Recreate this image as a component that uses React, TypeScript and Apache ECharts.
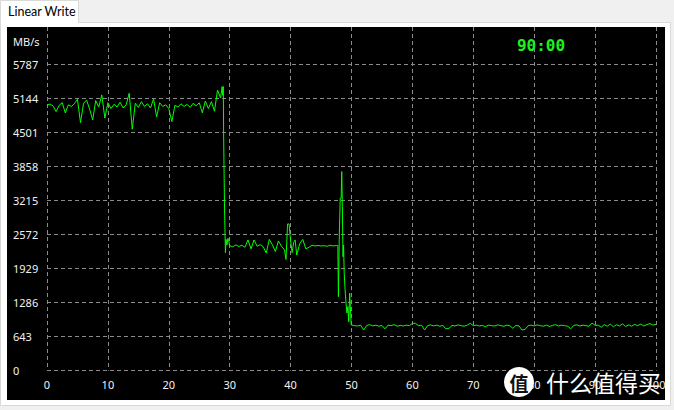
import React, { useEffect, useRef } from "react";
import * as echarts from "echarts";

// ---- data ----
const yTickLabels = [0, 643, 1286, 1929, 2572, 3215, 3858, 4501, 5144, 5787];
const xTickLabels = [0, 10, 20, 30, 40, 50, 60, 70, 80, 90, 100];
const yStep = 643;
const yMax = 6490;
const timerText = "90:00";
const unitText = "MB/s";
const tabTitle = "Linear Write";

// phase 1: sustained SLC-cache write, samples every 0.5 from 0
const sampleStep = 0.5;
const phase1Start = 0;
const phase1Speeds = [
  5020, 5035, 5000, 4893, 5010, 5063, 4868, 5020, 4990, 5040,
  5127, 4685, 5050, 5110, 4940, 4735, 5100, 4980, 5208, 4770,
  5060, 4950, 5030, 4980, 5070, 4960, 5020, 5240, 4560, 5050,
  4970, 5080, 4990, 5040, 4960, 5135, 4790, 5060, 4990, 5020,
  4950, 4703, 5010, 4980, 5040, 4990, 5030, 4970, 5050, 5000,
  5060, 4870, 5090, 4950, 5080, 4900, 5300, 5150,
];

// first drop
const drop1Times = [28.75, 28.85, 28.95, 29.0, 29.1, 29.15, 29.25, 29.3, 29.4, 29.55, 29.7, 29.85, 30.0];
const drop1Speeds = [5365, 5200, 5365, 4485, 4485, 3073, 3073, 2229, 2480, 2374, 2500, 2450, 2360];

// phase 2
const phase2Times = [
  30.5, 31.0, 31.5, 32.0, 32.5, 33.0, 33.5, 34.0, 34.5, 35.0,
  35.5, 36.0, 36.5, 37.0, 37.5, 38.0, 38.5, 39.0, 39.25, 39.5,
  39.75, 40.0, 40.25, 40.5, 40.75, 41.0, 41.5, 42.0, 42.5, 43.0,
  43.5, 44.0, 44.5, 45.0, 45.5, 46.0, 46.5, 47.0, 47.5,
];
const phase2Speeds = [
  2340, 2375, 2345, 2370, 2330, 2469, 2300, 2469, 2350, 2380,
  2340, 2223, 2480, 2380, 2250, 2450, 2350, 2280, 2100, 2771,
  2771, 2450, 2230, 2420, 2469, 2185, 2400, 2480, 2300, 2330,
  2370, 2355, 2365, 2355, 2360, 2350, 2370, 2355, 2365,
];

// second drop
const drop2Times = [47.76, 47.8, 47.85, 48.0, 48.15, 48.3, 48.4, 48.5, 48.6, 48.7, 48.8, 48.95, 49.1, 49.25, 49.4, 49.55, 49.7, 49.95];
const drop2Speeds = [2365, 1902, 1398, 2563, 3257, 3257, 3760, 3098, 2153, 2374, 1845, 1524, 1278, 1090, 1209, 925, 1467, 863];

// phase 3: steady state, samples every 0.5 from 50.5
const phase3Start = 50.5;
const phase3Speeds = [
  850, 845, 860, 769, 855, 870, 845, 860, 840, 855,
  790, 860, 850, 870, 840, 855, 845, 860, 850, 895,
  895, 850, 860, 769, 850, 865, 845, 860, 840, 855,
  790, 800, 855, 845, 865, 850, 840, 860, 895, 850,
  860, 845, 855, 830, 860, 850, 845, 865, 850, 840,
  860, 850, 800, 855, 845, 769, 780, 850, 860, 845,
  865, 850, 840, 860, 835, 855, 870, 845, 860, 850,
  840, 790, 855, 865, 845, 860, 850, 840, 900, 855,
  860, 820, 870, 840, 880, 830, 870, 845, 885, 835,
  865, 840, 875, 850, 880, 845, 870, 890, 860, 875,
];

function buildSeries(): [number, number][] {
  const pts: [number, number][] = [];
  phase1Speeds.forEach((v, i) => pts.push([phase1Start + i * sampleStep, v]));
  drop1Times.forEach((t, i) => pts.push([t, drop1Speeds[i]]));
  phase2Times.forEach((t, i) => pts.push([t, phase2Speeds[i]]));
  drop2Times.forEach((t, i) => pts.push([t, drop2Speeds[i]]));
  phase3Speeds.forEach((v, i) => pts.push([phase3Start + i * sampleStep, v]));
  return pts;
}

const labelFont = '"Noto Sans", "Open Sans", sans-serif';
const gridGray = "#8a8a8a";

export default function App() {
  const ref = useRef<HTMLDivElement>(null);
  useEffect(() => {
    if (!ref.current) return;
    const chart = echarts.init(ref.current, undefined, { renderer: "svg" });
    const shown = new Set(yTickLabels);
    const splitColors = yTickLabels.map(() => gridGray).concat(["rgba(0,0,0,0)", "rgba(0,0,0,0)"]);
    chart.setOption({
      animation: false,
      backgroundColor: "#f0f0f0",
      grid: { left: 47, right: 18, top: 27, bottom: 39.3 },
      xAxis: {
        type: "value",
        min: xTickLabels[0],
        max: xTickLabels[xTickLabels.length - 1],
        interval: 10,
        axisLine: { show: false },
        axisTick: { show: false },
        axisLabel: { color: "#f2f2f2", fontSize: 11, fontFamily: labelFont, margin: 8 },
        splitLine: { show: true, lineStyle: { color: gridGray, type: [4, 3], width: 1 } },
      },
      yAxis: {
        type: "value",
        min: 0,
        max: yMax,
        interval: yStep,
        axisLine: { show: false },
        axisTick: { show: false },
        axisLabel: {
          color: "#f2f2f2",
          fontSize: 11,
          fontFamily: labelFont,
          align: "left",
          margin: 34,
          formatter: (v: number) => (shown.has(v) ? String(v) : ""),
        },
        splitLine: { show: true, showMaxLine: false, lineStyle: { color: splitColors, type: [4, 3], width: 1 } },
      },
      series: [
        {
          type: "line",
          data: buildSeries(),
          symbol: "none",
          silent: true,
          lineStyle: { color: "#00ff00", width: 1 },
          z: 5,
        },
      ],
      graphic: [
        { type: "rect", z: -10, shape: { x: 0.5, y: 22.5, width: 670, height: 383 }, style: { fill: "#ffffff", stroke: "#d9d9d9", lineWidth: 1 } },
        { type: "rect", z: -9, shape: { x: 0.5, y: 0.5, width: 78, height: 23 }, style: { fill: "#ffffff" } },
        { type: "polyline", z: -9, shape: { points: [[0.5, 23], [0.5, 0.5], [78.5, 0.5], [78.5, 22.5]] }, style: { stroke: "#d9d9d9", fill: null, lineWidth: 1 } },
        { type: "text", z: -8, x: 8, y: 11.5, style: { text: tabTitle, fill: "#000000", fontSize: 12.5, fontFamily: 'Lato, "Liberation Sans", sans-serif', verticalAlign: "middle", align: "left" } },
        { type: "rect", z: -7, shape: { x: 7, y: 27, width: 658, height: 373 }, style: { fill: "#000000" } },
        { type: "text", z: 50, x: 13, y: 41, style: { text: unitText, fill: "#f2f2f2", fontSize: 11, fontFamily: labelFont, verticalAlign: "middle", align: "left" } },
        { type: "text", z: 50, x: 541, y: 45, style: { text: timerText, fill: "#1ef01e", fontSize: 16, fontWeight: "bold", fontFamily: '"DejaVu Sans Mono", "Liberation Mono", monospace', verticalAlign: "middle", align: "center" } },
        { type: "circle", z: 60, shape: { cx: 519, cy: 382, r: 15 }, style: { fill: "#ffffff" } },
        { type: "text", z: 61, x: 519, y: 382, style: { text: "值", fill: "#111111", fontSize: 19, fontWeight: "bold", fontFamily: '"Noto Sans CJK SC", sans-serif', verticalAlign: "middle", align: "center" } },
        { type: "text", z: 61, x: 546, y: 382, style: { text: "什么值得买", fill: "#ffffff", fontSize: 23, fontFamily: '"Noto Sans CJK SC", sans-serif', verticalAlign: "middle", align: "left" } },
      ],
    });
    return () => chart.dispose();
  }, []);
  return <div ref={ref} style={{ position: "fixed", left: 0, top: 0, width: 674, height: 410 }} />;
}
